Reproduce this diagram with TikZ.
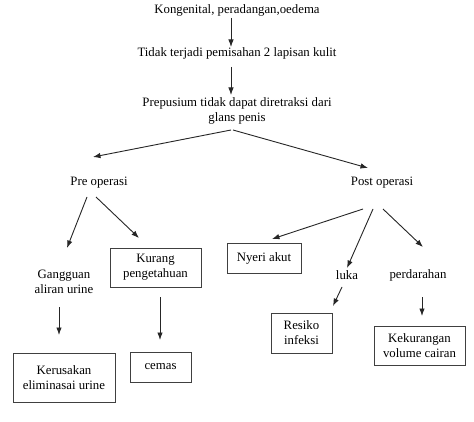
\documentclass[tikz,border=0pt]{standalone}
\usepackage{fontspec}
\setmainfont{Liberation Serif}
\usetikzlibrary{arrows.meta}

\begin{document}
\begin{tikzpicture}[x=1pt,y=-1pt,
    every node/.style={font=\fontsize{12.8}{15}\selectfont, align=center, inner sep=0pt, text=black},
    txt/.style={},
    kotak/.style={draw=black!75, line width=0.9pt},
    panah/.style={draw=black!85, line width=0.9pt, -{Latex[length=7.5pt,width=5.5pt]}}]
\useasboundingbox[fill=white] (0,0) rectangle (474,422);
% text nodes
\node[txt] (kong) at (237,10) {Kongenital, peradangan,oedema};
\node[txt] (tidak) at (237,53) {Tidak terjadi pemisahan 2 lapisan kulit};
\node[txt] (prep) at (237,111) {Prepusium tidak dapat diretraksi dari\\glans penis};
\node[txt] (pre) at (99,183) {Pre operasi};
\node[txt] (post) at (382,183) {Post operasi};
\node[txt] (gang) at (64,282) {Gangguan\\aliran urine};
\node[txt] (luka) at (347,275) {luka};
\node[txt] (perd) at (418,275) {perdarahan};
% boxes
\node[kotak, minimum width=91pt, minimum height=39pt] (kurang) at (155.5,267.5) {Kurang\\pengetahuan};
\node[kotak, minimum width=74pt, minimum height=30pt] (nyeri) at (264,258) {Nyeri akut};
\node[kotak, minimum width=102pt, minimum height=49pt] (kerus) at (64,377.5) {Kerusakan\\eliminasai urine};
\node[kotak, minimum width=61pt, minimum height=30pt] (cemas) at (160.5,367) {cemas};
\node[kotak, minimum width=61pt, minimum height=40pt] (resiko) at (301.5,333) {Resiko\\infeksi};
\node[kotak, minimum width=91pt, minimum height=39pt] (kekur) at (419.5,345.5) {Kekurangan\\volume cairan};
% arrows
\draw[panah] ([xshift=-6pt,yshift=-8pt]kong.center) -- ([xshift=-6pt,yshift=6pt]tidak.center);
\draw[panah] ([xshift=-6pt,yshift=-14pt]tidak.center) -- ([xshift=-6pt,yshift=16pt]prep.center);
\draw[panah] ([xshift=-6pt,yshift=-19pt]prep.center) -- ([xshift=-6pt,yshift=26pt]pre.center);
\draw[panah] ([xshift=-4pt,yshift=-19pt]prep.center) -- ([xshift=-14pt,yshift=15pt]post.center);
\draw[panah] ([xshift=-12pt,yshift=-14pt]pre.center) -- ([xshift=3pt,yshift=34pt]gang.center);
\draw[panah] ([xshift=-3pt,yshift=-14pt]pre.center) -- ([xshift=-16.5pt,yshift=29.5pt]kurang.center);
\draw[panah] ([xshift=-19pt,yshift=-26pt]post.center) -- ([xshift=8pt,yshift=19pt]nyeri.center);
\draw[panah] ([xshift=-9pt,yshift=-26pt]post.center) -- ([yshift=7pt]luka.center);
\draw[panah] ([xshift=1pt,yshift=-26pt]post.center) -- ([xshift=5pt,yshift=28pt]perd.center);
\draw[panah] ([xshift=-5pt,yshift=-25pt]gang.center) -- ([xshift=-5pt,yshift=42.5pt]kerus.center);
\draw[panah] ([xshift=4.5pt,yshift=-29.5pt]kurang.center) -- ([xshift=-0.5pt,yshift=27pt]cemas.center);
\draw[panah] ([xshift=-5pt,yshift=-12pt]luka.center) -- ([xshift=31.5pt,yshift=27pt]resiko.center);
\draw[panah] ([xshift=4pt,yshift=-22pt]perd.center) -- ([xshift=2.5pt,yshift=29.5pt]kekur.center);
\end{tikzpicture}
\end{document}
